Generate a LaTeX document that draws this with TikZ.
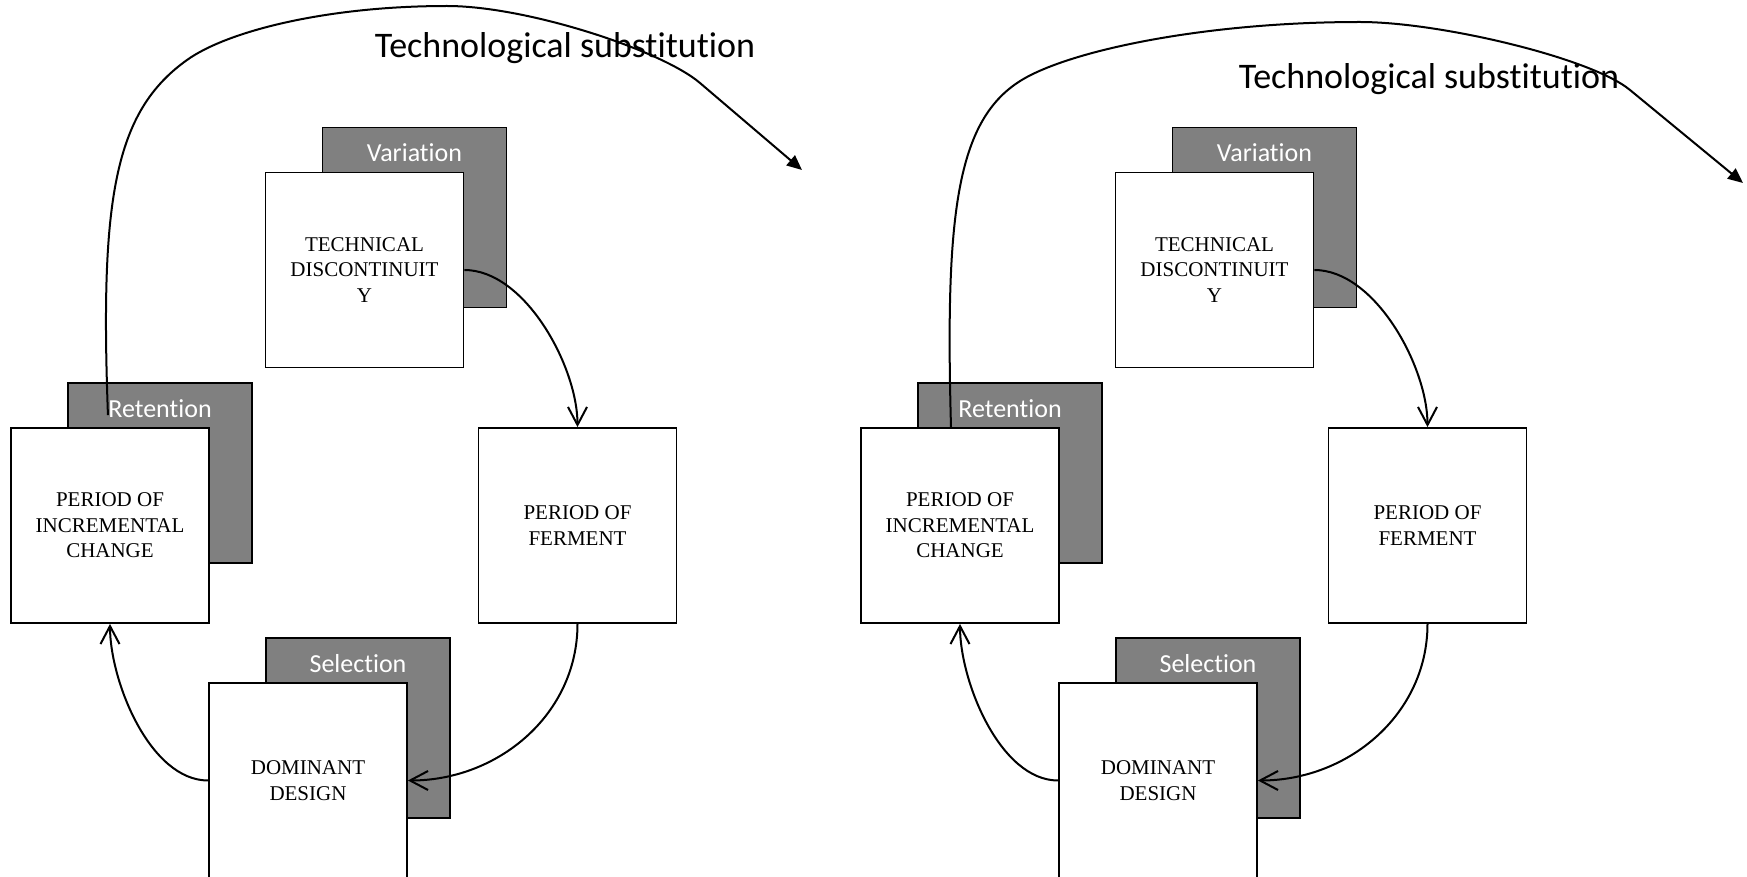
\documentclass[tikz,border=0pt]{standalone}
\usepackage{fontspec}
\setmainfont{Liberation Serif}
\newfontfamily\calibri[Ligatures=NoCommon]{Carlito}
\usetikzlibrary{arrows.meta}

\tikzset{
  stage/.style={draw, line width=0.9pt, fill=white, minimum width=99pt, minimum height=97.5pt,
    inner sep=0pt, align=center, font=\fontsize{10.5}{12.8}\selectfont},
  phase/.style={draw, line width=0.9pt, fill=black!50, minimum width=92pt, minimum height=90pt, inner sep=0pt},
  phasetext/.style={text=white, inner sep=0pt, anchor=base, font=\calibri\fontsize{13}{15.6}\selectfont},
  substtext/.style={inner sep=0pt, anchor=base, font=\calibri\fontsize{18}{21.6}\selectfont},
  loopline/.style={line width=1pt, -{Straight Barb[length=9pt,width=9.5pt]}},
  substline/.style={line width=1pt, -{Triangle[length=7.5pt,width=6.5pt]}}
}

\begin{document}
\begin{tikzpicture}[x=0.5pt, y=-0.5pt]
    \useasboundingbox (0,0) rectangle (1747,877);
    % left cycle
    \node[phase] (varL) at (414.5,217.5) {};
    \node[phase] (retL) at (160,473) {};
    \node[phase] (selL) at (358,728) {};
    \node[phasetext] (varTxtL) at ([yshift=-17.5pt]varL.north) {Variation};
    \node[phasetext] (retTxtL) at ([yshift=-17.5pt]retL.north) {Retention};
    \node[phasetext] (selTxtL) at ([yshift=-17.5pt]selL.north) {Selection};
    \node[stage] (techL) at (364.5,270) {TECHNICAL\\DISCONTINUIT\\Y};
    \node[stage] (incL) at (110,525.5) {PERIOD OF\\INCREMENTAL\\CHANGE};
    \node[stage] (ferL) at (577.5,525.5) {PERIOD OF\\FERMENT};
    \node[stage] (domL) at (308,780.5) {DOMINANT\\DESIGN};
    \draw [loopline] (techL.east) to[out=0, in=90, looseness=0.8] (ferL.north);
    \draw [loopline] (ferL.south) to[out=-90, in=0] (domL.east);
    \draw [loopline] (domL.west) to[out=180, in=-90, looseness=0.8] (incL.south);
    \node[substtext] (substL) at (565,58) {Technological substitution};
    \coordinate (tipL) at (802,170);
    \draw [substline] ([yshift=1pt]retTxtL.base west) .. controls (100,200) and (114,112) .. (187,60)
        .. controls (227.5,31) and (327,6) .. (447,6)
        .. controls (527,6) and (662,50.5) .. (700,83) -- (tipL);
    % right cycle
    \node[phase] (varR) at (1264.5,217.5) {};
    \node[phase] (retR) at (1010,473) {};
    \node[phase] (selR) at (1208,728) {};
    \node[phasetext] (varTxtR) at ([yshift=-17.5pt]varR.north) {Variation};
    \node[phasetext] (retTxtR) at ([yshift=-17.5pt]retR.north) {Retention};
    \node[phasetext] (selTxtR) at ([yshift=-17.5pt]selR.north) {Selection};
    \node[stage] (techR) at (1214.5,270) {TECHNICAL\\DISCONTINUIT\\Y};
    \node[stage] (incR) at (960,525.5) {PERIOD OF\\INCREMENTAL\\CHANGE};
    \node[stage] (ferR) at (1427.5,525.5) {PERIOD OF\\FERMENT};
    \node[stage] (domR) at (1158,780.5) {DOMINANT\\DESIGN};
    \draw [loopline] (techR.east) to[out=0, in=90, looseness=0.8] (ferR.north);
    \draw [loopline] (ferR.south) to[out=-90, in=0] (domR.east);
    \draw [loopline] (domR.west) to[out=180, in=-90, looseness=0.8] (incR.south);
    \node[substtext] (substR) at (1429,89) {Technological substitution};
    \coordinate (tipR) at (1743,183);
    \draw [substline] ([xshift=-4.5pt]incR.north) .. controls (945,210) and (956.6,115) .. (1027,77)
        .. controls (1079.8,48.5) and (1210,22) .. (1360,22)
        .. controls (1440,22) and (1591.5,58) .. (1630,90) -- (tipR);
\end{tikzpicture}
\end{document}
